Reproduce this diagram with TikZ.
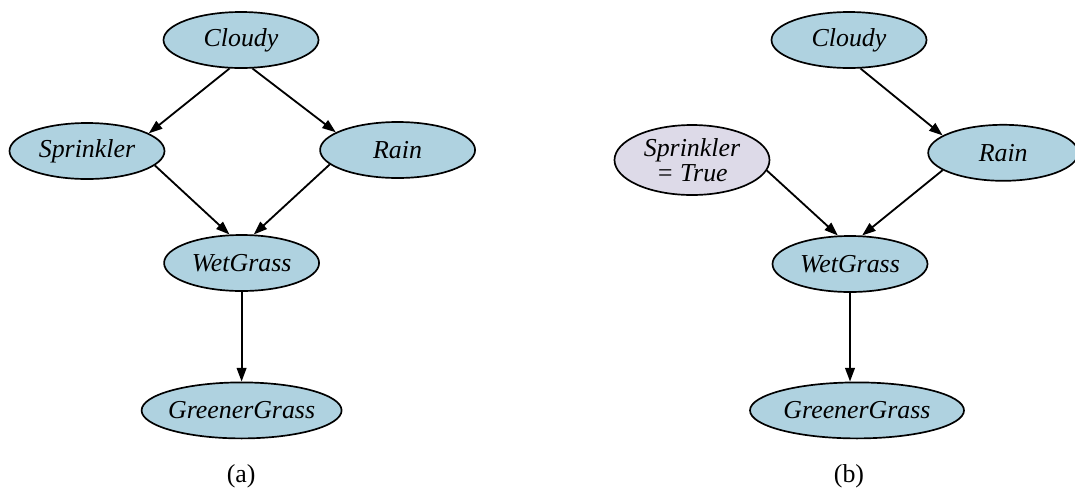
\documentclass[tikz,border=0pt]{standalone}
\usepackage{fontspec}
\setmainfont{Liberation Serif}
\usetikzlibrary{arrows.meta,positioning,shapes.geometric}
\definecolor{varblue}{RGB}{175,210,224}
\definecolor{evidgray}{RGB}{221,218,232}

\begin{document}
\begin{tikzpicture}[every node/.style={font=\fontsize{18.4}{18}\selectfont},
    randvar/.style={draw, ellipse, line width=1.2pt, fill=varblue, inner xsep=-0.4cm, inner ysep=0pt, minimum width=3.875cm, minimum height=1.4cm, align=center, font=\fontsize{18.4}{18}\selectfont\itshape},
    link/.style={-{Triangle[length=3.4mm, width=2.4mm]}, line width=1.3pt}]
    \useasboundingbox (0,0) rectangle (26.875,-12.375);

    % (a) the network as it is
    \node[randvar] (cloudyA) at (6.025,-1.0) {Cloudy};
    \node[randvar] (sprinklerA) at (2.175,-3.775) {Sprinkler};
    \node[randvar] (rainA) at (9.94,-3.75) {Rain};
    \node[randvar] (wetA) at (6.04,-6.575) {WetGrass};
    \node[randvar, minimum width=5cm] (greenerA) at (6.04,-10.26) {GreenerGrass};
    \node (capA) at (6.03,-11.9) {(a)};

    \draw[link] (cloudyA.248) -- (sprinklerA.16);
    \draw[link] (cloudyA.292) -- (rainA.164);
    \draw[link] (sprinklerA.-12) -- (wetA.113);
    \draw[link] (rainA.192) -- (wetA.67);
    \draw[link] (wetA.south) -- (greenerA.north);

    % (b) after setting Sprinkler = True
    \node[randvar] (cloudyB) at (21.225,-1.0) {Cloudy};
    \node[randvar, fill=evidgray, minimum height=1.75cm] (sprinklerB) at (17.3,-4.0) {Sprinkler\\= True};
    \node[randvar, minimum width=3.75cm] (rainB) at (25.08,-3.82) {Rain};
    \node[randvar] (wetB) at (21.25,-6.6) {WetGrass};
    \node[randvar, minimum width=5.35cm] (greenerB) at (21.425,-10.26) {GreenerGrass};
    \node (capB) at (21.225,-11.9) {(b)};

    \draw[link] (cloudyB.292) -- (rainB.164);
    \draw[link] (sprinklerB.-8) -- (wetB.113);
    \draw[link] (rainB.196) -- (wetB.67);
    \draw[link] (wetB.south) -- (wetB.south |- greenerB.north);
\end{tikzpicture}
\end{document}
